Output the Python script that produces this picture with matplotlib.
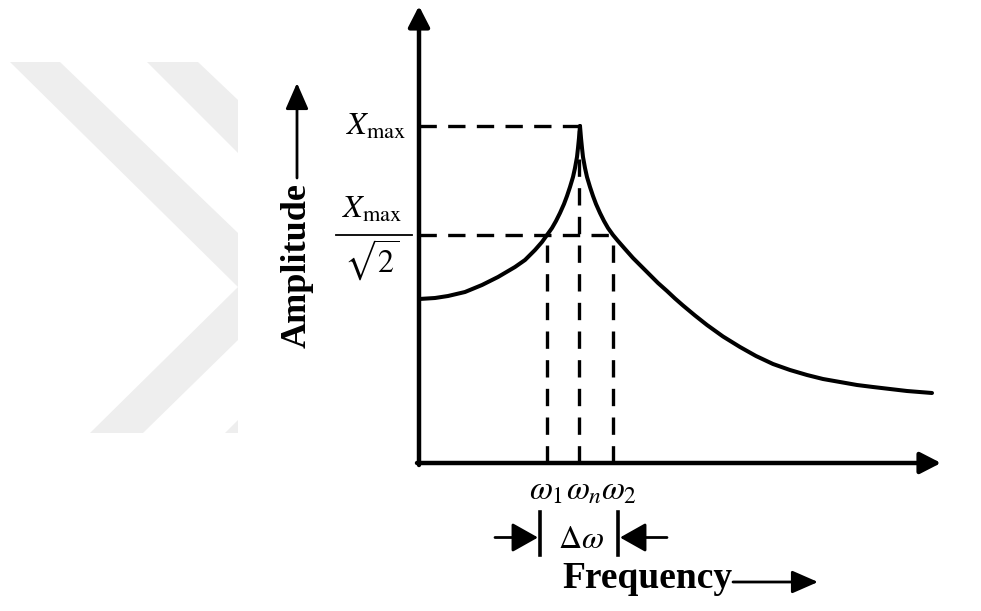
import matplotlib.pyplot as plt
from matplotlib.patches import Polygon
from matplotlib.transforms import Affine2D

plt.rcParams['font.family'] = ['Liberation Serif', 'DejaVu Serif']
plt.rcParams['mathtext.fontset'] = 'stix'

# resonance curve (frequency, amplitude), left and right of the peak
freq_left = [0.00, 0.16, 0.29, 0.46, 0.63, 0.79, 0.96, 1.06, 1.16, 1.23, 1.28, 1.33,
             1.37, 1.41, 1.45, 1.48, 1.51, 1.54, 1.56, 1.58, 1.59, 1.60, 1.61]
amp_left = [1.64, 1.65, 1.67, 1.71, 1.78, 1.86, 1.96, 2.03, 2.13, 2.21, 2.28, 2.35,
            2.42, 2.50, 2.59, 2.67, 2.76, 2.86, 2.95, 3.06, 3.15, 3.25, 3.37]
freq_right = [1.61, 1.62, 1.63, 1.64, 1.66, 1.68, 1.71, 1.74, 1.77, 1.81, 1.85, 1.89,
              1.94, 1.99, 2.06, 2.14, 2.22, 2.31, 2.39, 2.48, 2.56, 2.64, 2.76, 2.88,
              3.04, 3.21, 3.37, 3.54, 3.71, 3.88, 4.04, 4.21, 4.38, 4.54, 4.71, 4.88, 5.13]
amp_right = [3.37, 3.25, 3.15, 3.06, 2.95, 2.86, 2.76, 2.67, 2.59, 2.50, 2.42, 2.35,
             2.28, 2.22, 2.14, 2.05, 1.97, 1.88, 1.80, 1.72, 1.645, 1.575, 1.475, 1.38,
             1.265, 1.16, 1.07, 0.99, 0.93, 0.88, 0.84, 0.81, 0.78, 0.76, 0.74, 0.72, 0.70]

# marked frequencies and amplitudes
omega_1 = 1.28
omega_n = 1.60
omega_2 = 1.94
x_max = 3.37
x_half = 2.28

# watermark chevrons, in pixels from the top left corner
watermark = [
    [(10, 62), (60, 62), (238, 233), (238, 340), (143, 433), (90, 433), (238, 287)],
    [(147, 62), (198, 62), (238, 100), (238, 153)],
    [(225, 433), (238, 433), (238, 420)],
]

W, H = 981, 611
fig = plt.figure(figsize=(W / 100, H / 100), dpi=100)
ax = fig.add_axes([0, 0, 1, 1])
ax.set_xlim(-4.19, 5.62)
ax.set_ylim(-1.48, 4.63)
ax.axis('off')

pix = Affine2D().scale(1 / W, -1 / H).translate(0, 1) + fig.transFigure
for pts in watermark:
    fig.patches.append(Polygon(pts, closed=True, transform=pix, facecolor='#eeeeee',
                               edgecolor='none', zorder=0))

# axes with arrow heads
head = dict(arrowstyle='-|>,head_length=0.7,head_width=0.36', color='black', lw=3.2,
            mutation_scale=18, shrinkA=0, shrinkB=0)
ax.annotate('', xy=(0, 4.57), xytext=(0, -0.02), arrowprops=head)
ax.annotate('', xy=(5.22, 0), xytext=(-0.02, 0), arrowprops=head)

# the curve
ax.plot(freq_left, amp_left, color='black', lw=2.9, solid_joinstyle='round',
        solid_capstyle='round')
ax.plot(freq_right, amp_right, color='black', lw=2.9, solid_joinstyle='round',
        solid_capstyle='round')

# dashed guides
dash = dict(color='black', lw=2.4, dashes=(5.2, 3.4))
ax.plot([0, omega_n], [x_max, x_max], **dash)
ax.plot([0, omega_2], [x_half, x_half], **dash)
ax.plot([omega_1, omega_1], [0, x_half], **dash)
ax.plot([omega_n, omega_n], [0, x_max], **dash)
ax.plot([omega_2, omega_2], [0, x_half], **dash)

# y labels
ax.text(-0.43, 3.28, r'$X_{\mathrm{max}}$', fontsize=23, ha='center', va='baseline')
ax.text(-0.47, 2.45, r'$X_{\mathrm{max}}$', fontsize=23, ha='center', va='baseline')
ax.plot([-0.83, -0.07], [2.28, 2.28], color='black', lw=1.3)
ax.text(-0.47, 1.90, r'$\sqrt{2}$', fontsize=23, ha='center', va='baseline')

# omega labels
ax.text(omega_1 - 0.01, -0.36, r'$\omega_1$', fontsize=24, ha='center', va='baseline')
ax.text(omega_n + 0.05, -0.36, r'$\omega_n$', fontsize=24, ha='center', va='baseline')
ax.text(omega_2 + 0.06, -0.36, r'$\omega_2$', fontsize=24, ha='center', va='baseline')

# bandwidth marker
ax.plot([1.21, 1.21], [-0.49, -0.92], color='black', lw=2.6)
ax.plot([1.99, 1.99], [-0.49, -0.92], color='black', lw=2.6)
small = dict(arrowstyle='-|>,head_length=0.8,head_width=0.45', color='black', lw=2.0,
             mutation_scale=20, shrinkA=0, shrinkB=0)
ax.annotate('', xy=(1.19, -0.745), xytext=(0.76, -0.745), arrowprops=small)
ax.annotate('', xy=(2.01, -0.745), xytext=(2.48, -0.745), arrowprops=small)
ax.text(1.62, -0.85, r'$\Delta\omega$', fontsize=23, ha='center', va='baseline')

# axis titles
ax.text(1.43, -1.25, 'Frequency', fontsize=27, fontweight='bold', ha='left', va='baseline')
arr = dict(arrowstyle='-|>,head_length=0.8,head_width=0.35', color='black', lw=2.0,
           mutation_scale=20, shrinkA=0, shrinkB=0)
ax.annotate('', xy=(3.99, -1.19), xytext=(3.14, -1.19), arrowprops=arr)
ax.text(-1.22, 1.97, 'Amplitude', fontsize=26, fontweight='bold', rotation=90,
        ha='center', va='center')
ax.annotate('', xy=(-1.22, 3.80), xytext=(-1.22, 2.85), arrowprops=arr)

fig.savefig('out.png', dpi=100)
